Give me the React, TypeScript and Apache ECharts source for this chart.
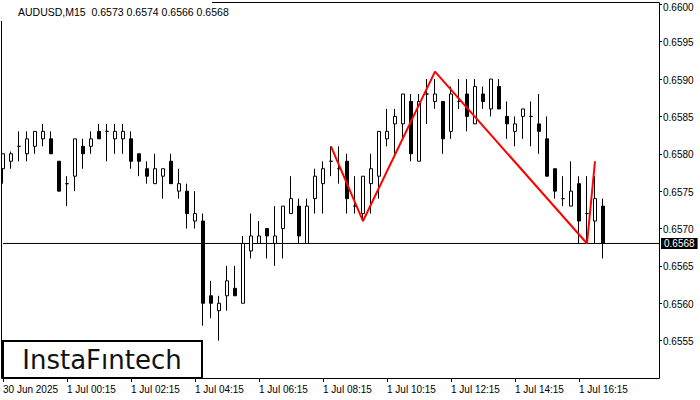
import React, { useEffect, useRef } from "react";
import * as echarts from "echarts";

// OHLC values (AUDUSD M15)
const opens = [
  0.6578, 0.6579, 0.6581, 0.658, 0.6581, 0.6582, 0.6582, 0.6579, 0.6576, 0.6577,
  0.6581, 0.6581, 0.6583, 0.6583, 0.6582, 0.6582, 0.6582, 0.658, 0.6578, 0.6576,
  0.6577, 0.6579, 0.6575, 0.6575, 0.6571, 0.6571, 0.6561, 0.6559, 0.6561, 0.6562,
  0.656, 0.6567, 0.6568, 0.657, 0.6568, 0.657, 0.6572, 0.6573, 0.6568, 0.6574,
  0.6576, 0.6579, 0.6578, 0.6579, 0.6573, 0.6572, 0.6576, 0.6577, 0.6582, 0.6584,
  0.6584, 0.6587, 0.6579, 0.6588, 0.6587, 0.6587, 0.6583, 0.6587, 0.6588, 0.6584,
  0.6588, 0.6586, 0.6589, 0.6585, 0.6583, 0.6585, 0.6585, 0.6584, 0.6582, 0.6578,
  0.6574, 0.6573, 0.6576, 0.6572, 0.6571, 0.6573,
];
const closes = [
  0.658, 0.658, 0.6581, 0.6582, 0.6583, 0.6583, 0.658, 0.6575, 0.6576, 0.6582,
  0.658, 0.6582, 0.6582, 0.6583, 0.6583, 0.6583, 0.6579, 0.6579, 0.6577, 0.6578,
  0.6578, 0.6576, 0.6576, 0.6572, 0.6572, 0.656, 0.656, 0.656, 0.6563, 0.6561,
  0.6568, 0.6569, 0.6569, 0.6569, 0.6569, 0.6573, 0.6574, 0.6569, 0.6573, 0.6577,
  0.6578, 0.6579, 0.6578, 0.6574, 0.6573, 0.6577, 0.6578, 0.6583, 0.6583, 0.6585,
  0.6588, 0.658, 0.6587, 0.6588, 0.6588, 0.6582, 0.6588, 0.6587, 0.6585, 0.6589,
  0.6587, 0.659, 0.6586, 0.6584, 0.6584, 0.6586, 0.6585, 0.6583, 0.6577, 0.6575,
  0.6574, 0.6575, 0.6571, 0.6572, 0.6574, 0.6568,
];
const lows = [
  0.6576, 0.6578, 0.6579, 0.6579, 0.658, 0.6581, 0.658, 0.6575, 0.6573, 0.6575,
  0.6578, 0.658, 0.6582, 0.6579, 0.658, 0.658, 0.6578, 0.6577, 0.6576, 0.6576,
  0.6574, 0.6576, 0.6574, 0.657, 0.657, 0.6557, 0.6558, 0.6555, 0.6559, 0.6561,
  0.656, 0.6566, 0.6568, 0.6566, 0.6565, 0.6566, 0.6572, 0.6568, 0.6568, 0.6572,
  0.6572, 0.6577, 0.6576, 0.6572, 0.6572, 0.6571, 0.6572, 0.6574, 0.6581, 0.658,
  0.6582, 0.6579, 0.6579, 0.6584, 0.6586, 0.658, 0.6582, 0.6586, 0.6583, 0.6584,
  0.6586, 0.6585, 0.6586, 0.6582, 0.6581, 0.6582, 0.6581, 0.658, 0.6577, 0.6574,
  0.6573, 0.6573, 0.6568, 0.6568, 0.6568, 0.6566,
];
const highs = [
  0.658, 0.65803, 0.6583, 0.6583, 0.6583, 0.6584, 0.6583, 0.6579, 0.6577, 0.6582,
  0.6582, 0.6583, 0.6584, 0.6584, 0.6584, 0.6584, 0.6583, 0.658, 0.6579, 0.658,
  0.6578, 0.658, 0.6578, 0.6576, 0.6575, 0.6572, 0.6563, 0.6561, 0.6565, 0.6565,
  0.6569, 0.6572, 0.6571, 0.657, 0.6573, 0.6573, 0.6577, 0.6574, 0.6574, 0.6578,
  0.6579, 0.6581, 0.6581, 0.658, 0.6577, 0.6577, 0.658, 0.6583, 0.6586, 0.6586,
  0.6588, 0.6588, 0.6588, 0.659, 0.659, 0.6587, 0.6589, 0.659, 0.659, 0.659,
  0.6589, 0.659, 0.659, 0.6587, 0.6585, 0.6586, 0.6587, 0.6588, 0.6585, 0.6578,
  0.6577, 0.6579, 0.6577, 0.6577, 0.6577, 0.6574,
];

// Pattern zig-zag (bar index, price)
const patternIdx = [41, 45, 54, 73, 74];
const patternPrice = [0.6581, 0.6571, 0.6591, 0.6568, 0.6579];

const currentPrice = 0.6568;
const tickLabels = [
  "30 Jun 2025", "1 Jul 00:15", "1 Jul 02:15", "1 Jul 04:15", "1 Jul 06:15",
  "1 Jul 08:15", "1 Jul 10:15", "1 Jul 12:15", "1 Jul 14:15", "1 Jul 16:15",
];
const title = "AUDUSD,M15  0.6573 0.6574 0.6566 0.6568";

const TOTAL_SLOTS = 83; // bars + empty space on the right
const categories: string[] = [];
for (let i = 0; i < TOTAL_SLOTS; i++) {
  const m = 22 * 60 + 15 + i * 15;
  const day = m >= 1440 ? "1 Jul" : "30 Jun";
  const mm = m % 1440;
  const hh = String(Math.floor(mm / 60)).padStart(2, "0");
  const mi = String(mm % 60).padStart(2, "0");
  categories.push(`${day} ${hh}:${mi}`);
}

const FONT = "'Liberation Sans', Arial, sans-serif";

export default function App() {
  const ref = useRef<HTMLDivElement>(null);
  useEffect(() => {
    if (!ref.current) return;
    const chart = echarts.init(ref.current, undefined, { renderer: "svg" });
    const candleData = opens.map((o, i) => [o, closes[i], lows[i], highs[i]]);
    const lineData = patternIdx.map((k, j) => [categories[k], patternPrice[j]]);
    const priceLine = [
      [categories[0], currentPrice],
      [categories[TOTAL_SLOTS - 1], currentPrice],
    ];
    const showTick = (i: number) => i % 8 === 0 && i <= 72;
    const frame = "#000";
    chart.setOption({
      animation: false,
      backgroundColor: "#ffffff",
      grid: { left: 3, right: 41, top: 4.3, bottom: 22, containLabel: false },
      xAxis: {
        type: "category",
        data: categories,
        boundaryGap: false,
        axisLine: { show: false },
        axisTick: { show: true, interval: showTick, length: 4, lineStyle: { color: "#000" } },
        axisLabel: {
          interval: showTick,
          formatter: (_v: string, i: number) => tickLabels[i / 8] ?? "",
          align: "left",
          margin: 6,
          fontSize: 10,
          fontFamily: FONT,
          color: "#000",
        },
        splitLine: { show: false },
      },
      yAxis: {
        type: "value",
        position: "right",
        min: 0.655,
        max: 0.66,
        interval: 0.0005,
        scale: true,
        axisLine: { show: false },
        axisTick: { show: true, length: 3, lineStyle: { color: "#000" } },
        axisLabel: {
          formatter: (v: number) =>
            v > 0.65995 ? "{t|" + v.toFixed(4) + "}" : "{n|" + v.toFixed(4) + "}",
          showMinLabel: false,
          margin: 4,
          fontSize: 10,
          fontFamily: FONT,
          color: "#000",
          rich: {
            t: { fontSize: 10, fontFamily: FONT, color: "#000", padding: [7, 0, 0, 0] },
            n: { fontSize: 10, fontFamily: FONT, color: "#000", padding: [2, 0, 0, 0] },
          },
        },
        splitLine: { show: false },
      },
      series: [
        {
          type: "line",
          data: priceLine,
          symbol: "none",
          lineStyle: { color: "#000", width: 1 },
          endLabel: {
            show: true,
            formatter: currentPrice.toFixed(4),
            color: "#fff",
            backgroundColor: "#000",
            fontSize: 10,
            fontFamily: FONT,
            padding: [1, 3, 0, 3],
            distance: 2,
          },
          z: 1,
          clip: false,
        },
        {
          type: "candlestick",
          data: candleData,
          barWidth: 4,
          clip: false,
          itemStyle: {
            color: "#ffffff",
            color0: "#000000",
            borderColor: "#000000",
            borderColor0: "#000000",
            borderWidth: 1,
          },
          z: 2,
        },
        {
          type: "line",
          data: lineData,
          symbol: "none",
          lineStyle: { color: "#ff0000", width: 2 },
          z: 5,
        },
      ],
      graphic: [
        { type: "line", shape: { x1: 1.5, y1: 2.5, x2: 659.5, y2: 2.5 }, style: { stroke: frame, lineWidth: 1 }, z: 10, silent: true },
        { type: "line", shape: { x1: 1.5, y1: 2.5, x2: 1.5, y2: 378.5 }, style: { stroke: frame, lineWidth: 1 }, z: 10, silent: true },
        { type: "line", shape: { x1: 659.5, y1: 2.5, x2: 659.5, y2: 378.5 }, style: { stroke: frame, lineWidth: 1 }, z: 10, silent: true },
        { type: "line", shape: { x1: 1.5, y1: 378.5, x2: 659.5, y2: 378.5 }, style: { stroke: frame, lineWidth: 1 }, z: 10, silent: true },
        {
          type: "rect",
          shape: { x: 0, y: 0, width: 212, height: 21 },
          style: { fill: "#fff" },
          z: 11,
          silent: true,
        },
        {
          type: "text",
          x: 18,
          y: 12,
          style: {
            text: title,
            fontSize: 10.5,
            fontFamily: FONT,
            fill: "#000",
            verticalAlign: "middle",
          },
          z: 12,
        },
        {
          type: "rect",
          shape: { x: 3, y: 341, width: 199, height: 37 },
          style: { fill: "#fff", stroke: "#000", lineWidth: 2 },
          z: 12,
          silent: true,
        },
        {
          type: "text",
          x: 102,
          y: 360,
          style: {
            text: "InstaFıntech",
            fontSize: 26,
            fontWeight: "normal",
            fontFamily: "'DejaVu Sans', sans-serif",
            fill: "#111",
            align: "center",
            verticalAlign: "middle",
          },
          z: 13,
        },
      ],
    });
    return () => chart.dispose();
  }, []);
  return (
    <div
      ref={ref}
      style={{ position: "fixed", left: 0, top: 0, width: 700, height: 400 }}
    />
  );
}
